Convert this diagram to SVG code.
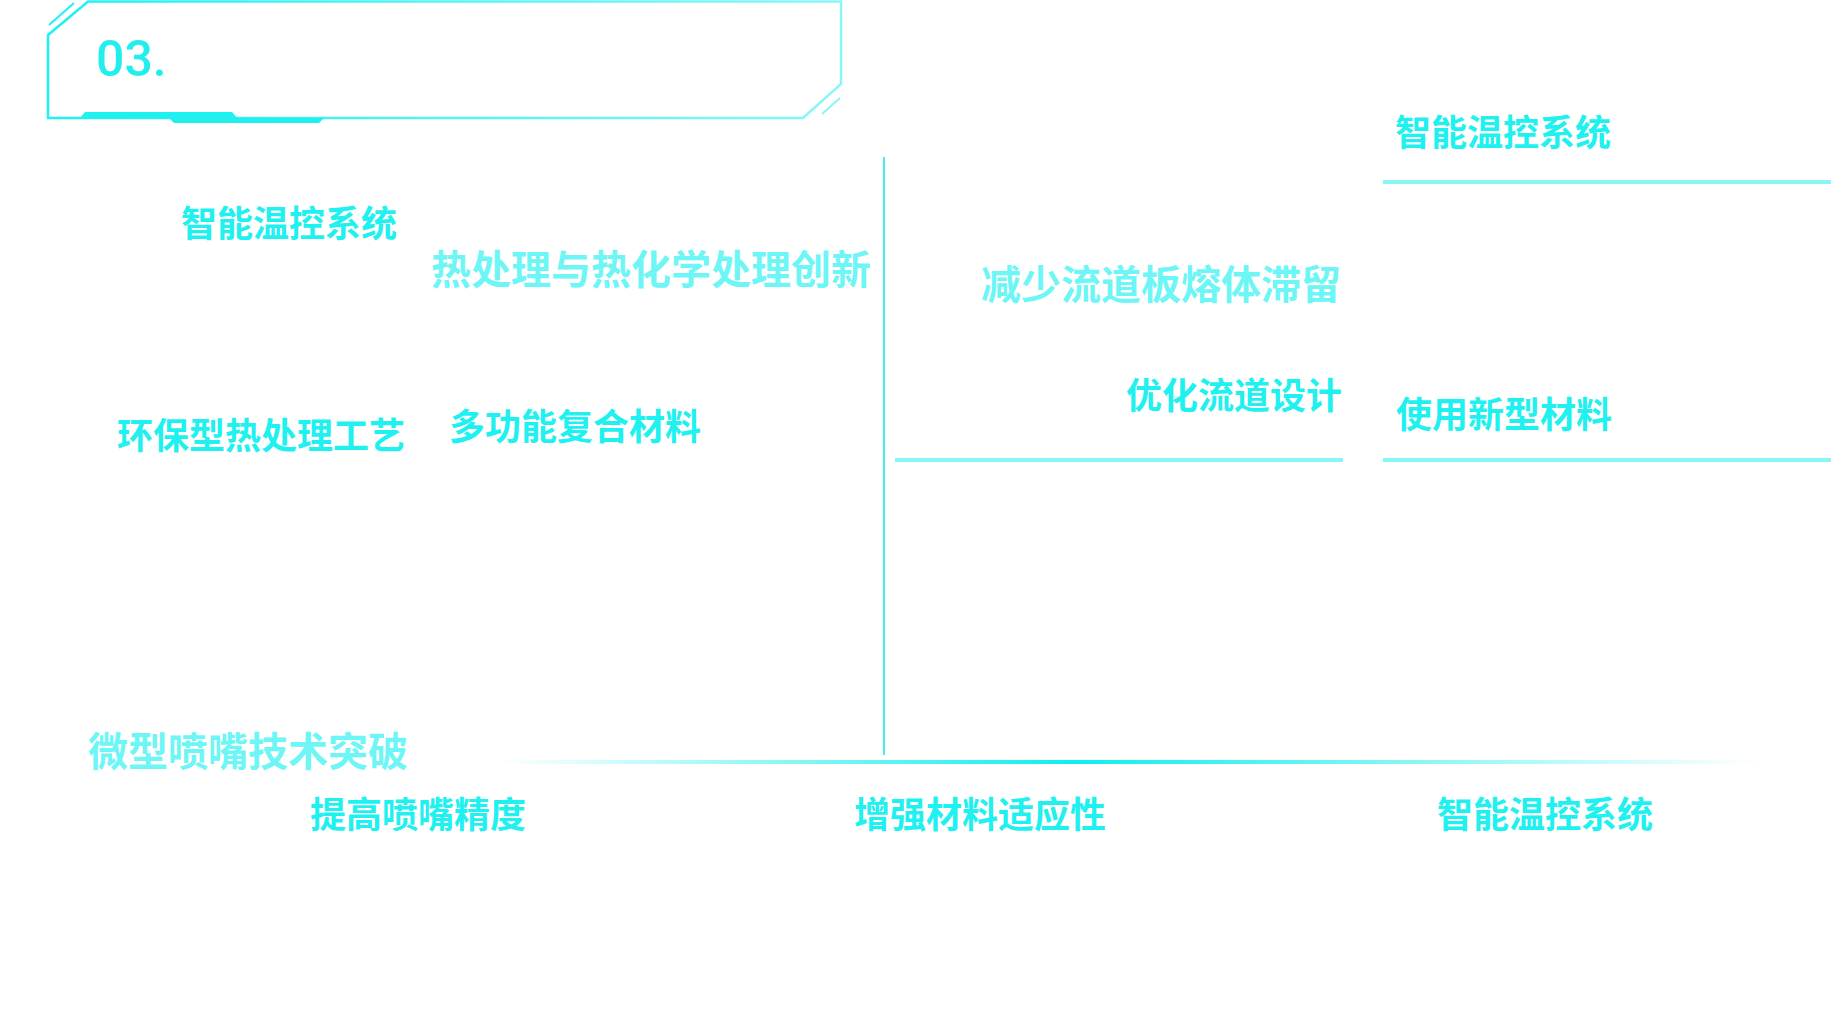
<svg xmlns="http://www.w3.org/2000/svg" width="1844" height="1020" viewBox="0 0 1844 1020">
<defs>
<linearGradient id="frameGrad" x1="48" y1="0" x2="841" y2="0" gradientUnits="userSpaceOnUse">
<stop offset="0" stop-color="#1ff0f0"/>
<stop offset="1" stop-color="#8af6f6"/>
</linearGradient>
<linearGradient id="baseGrad" x1="497" y1="0" x2="1760" y2="0" gradientUnits="userSpaceOnUse">
<stop offset="0" stop-color="#1aeeee" stop-opacity="0"/>
<stop offset="0.456" stop-color="#0eeeee" stop-opacity="1"/>
<stop offset="1" stop-color="#1aeeee" stop-opacity="0"/>
</linearGradient>
<style>
.t{font-family:"Noto Sans CJK SC","Noto Sans",sans-serif;font-weight:bold;font-size:36px;fill:#1ff0f0}
.tl{font-family:"Noto Sans CJK SC","Noto Sans",sans-serif;font-weight:bold;font-size:40px;fill:#6ef6f6}
.hl{stroke:#88f6f6;stroke-width:4;fill:none}
</style>
</defs>
<g id="header">
<polygon points="48,35 88,1.5 841,1.5 841,84 803,118 48,118" fill="none" stroke="url(#frameGrad)" stroke-width="2.5"/>
<line x1="49" y1="25" x2="74" y2="3" stroke="#1ff0f0" stroke-width="2"/>
<line x1="822" y1="114" x2="840" y2="98" stroke="#88f6f6" stroke-width="2"/>
<polygon points="80,118 85,112 232,112 237,118" fill="#1ff0f0"/>
<polygon points="169,118 174,123 319,123 324,118" fill="#22eeee"/>
<text x="96" y="76" style="font-family:Roboto,'Liberation Sans',Arial,sans-serif;font-weight:500;font-size:50px;fill:#22eeee">03.</text>
</g>
<g id="connectors">
<line x1="884" y1="157" x2="884" y2="755" stroke="#44eeee" stroke-width="2"/>
<rect x="497" y="760" width="1263" height="4" fill="url(#baseGrad)"/>
<line class="hl" x1="1383" y1="182" x2="1831" y2="182"/>
<line class="hl" x1="1383" y1="460" x2="1831" y2="460"/>
<line class="hl" x1="895" y1="460" x2="1343" y2="460"/>
</g>
<g id="node-left-1"><text class="t" x="181" y="237">智能温控系统</text></g>
<g id="node-left-title"><text class="tl" x="431" y="284">热处理与热化学处理创新</text></g>
<g id="node-left-2"><text class="t" x="117" y="449">环保型热处理工艺</text></g>
<g id="node-left-3"><text class="t" x="449" y="440">多功能复合材料</text></g>
<g id="node-right-1"><text class="t" x="1395" y="146">智能温控系统</text></g>
<g id="node-right-title"><text class="tl" x="981" y="299">减少流道板熔体滞留</text></g>
<g id="node-right-2"><text class="t" x="1126" y="409">优化流道设计</text></g>
<g id="node-right-3"><text class="t" x="1396" y="428">使用新型材料</text></g>
<g id="node-bottom-title"><text class="tl" x="88" y="766">微型喷嘴技术突破</text></g>
<g id="node-bottom-1"><text class="t" x="418" y="828" text-anchor="middle">提高喷嘴精度</text></g>
<g id="node-bottom-2"><text class="t" x="980" y="828" text-anchor="middle">增强材料适应性</text></g>
<g id="node-bottom-3"><text class="t" x="1545" y="828" text-anchor="middle">智能温控系统</text></g>
</svg>
